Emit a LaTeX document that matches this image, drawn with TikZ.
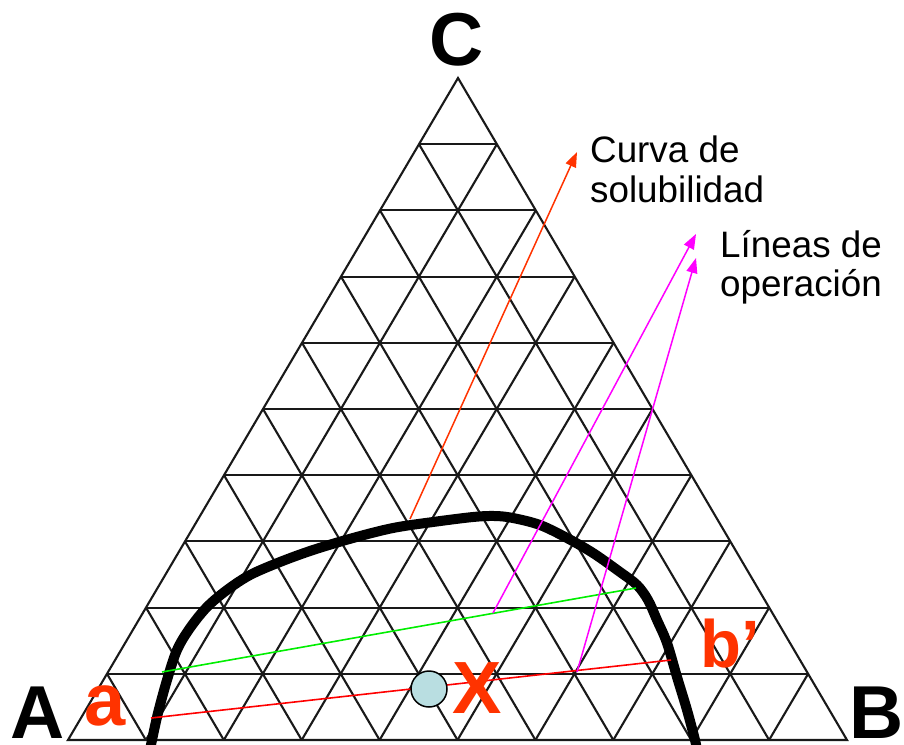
\documentclass[tikz,border=0pt]{standalone}
\usepackage{fontspec}
\setmainfont{Liberation Sans}
\usetikzlibrary{calc,arrows.meta}
\definecolor{lblred}{HTML}{FF3300}
\definecolor{ptfill}{HTML}{B9DEE1}
\definecolor{tieg}{HTML}{00EE00}
\definecolor{tier}{HTML}{FF0000}
\definecolor{opmag}{HTML}{FF00FF}
\begin{document}
\begin{tikzpicture}[x=1pt,y=-1pt,
  gridline/.style={line width=2.1pt, black!90},
  binodal/.style={line width=10pt, black, line cap=butt, line join=round},
  tieline/.style={line width=1.6pt},
  callout/.style={line width=1.5pt, -{Triangle[length=15pt,width=11pt]}},
  txt/.style={font=\fontsize{36.8}{44}\selectfont, inner sep=0pt, anchor=base west},
  vertexlbl/.style={font=\fontsize{75}{80}\selectfont\bfseries, inner sep=0pt, anchor=base},
  redlbl/.style={font=\fontsize{74}{80}\selectfont\bfseries, text=lblred, inner sep=0pt, anchor=base}]
\useasboundingbox (0,0) rectangle (904,744);
% triangle and grid
\coordinate (A) at (68,740);
\coordinate (B) at (847,740);
\coordinate (C) at (458,78);
\draw[gridline, line join=miter] (A) -- (B) -- (C) -- cycle;
\foreach \i in {1,...,9}{
  \draw[gridline] ($(A)!\i/10!(C)$) -- ($(B)!\i/10!(C)$);
  \draw[gridline] ($(A)!\i/10!(B)$) -- ($(A)!\i/10!(C)$);
  \draw[gridline] ($(B)!\i/10!(A)$) -- ($(B)!\i/10!(C)$);
}
% solubility curve
\draw[binodal] plot[smooth, tension=0.55] coordinates {(150,750) (152,740) (158,713) (167,680) (177,650) (190,628) (207,607) (227,590) (250,575) (280,562) (313,550) (353,538) (393,528) (433,522) (473,517) (495,516) (513,518) (540,525) (567,538) (593,553) (620,572) (637,585) (648,600) (657,620) (667,643) (677,677) (687,710) (695,740) (697,750)};
% tie lines
\coordinate (r1) at (151,718);
\coordinate (r2) at (671,660);
\coordinate (g1) at (162,672);
\coordinate (g2) at (636,588);
\draw[tieline, tier] (r1) -- (r2);
\draw[tieline, tieg] (g1) -- (g2);
% callout arrows
\coordinate (o1) at (410,519);
\coordinate (o2) at (577,152);
\coordinate (m1) at (493,613);
\coordinate (m2) at (696,234);
\coordinate (n1) at (577,672);
\coordinate (n2) at (696,258);
\draw[callout, lblred] (o1) -- (o2);
\draw[callout, opmag] (m1) -- (m2);
\draw[callout, opmag] (n1) -- (n2);
% mixture point
\node[circle, draw=black, line width=1.5pt, fill=ptfill, minimum size=36pt, inner sep=0pt] (pt) at (429,689) {};
% labels
\node[txt] (curva1) at (590,162) {Curva de};
\node[txt] (curva2) at (590,202) {solubilidad};
\node[txt] (lineas1) at (720,257) {Líneas de};
\node[txt] (lineas2) at (720,296) {operación};
\node[vertexlbl] (lblC) at (457,65) {C};
\node[vertexlbl] (lblA) at (38,738) {A};
\node[vertexlbl] (lblB) at (877,738) {B};
\node[redlbl] (lbla) at (105,725) {a};
\node[redlbl, font=\fontsize{67}{72}\selectfont\bfseries] (lblb) at (730,667) {b’};
\node[redlbl] (lblX) at (477,713) {X};
\end{tikzpicture}
\end{document}
